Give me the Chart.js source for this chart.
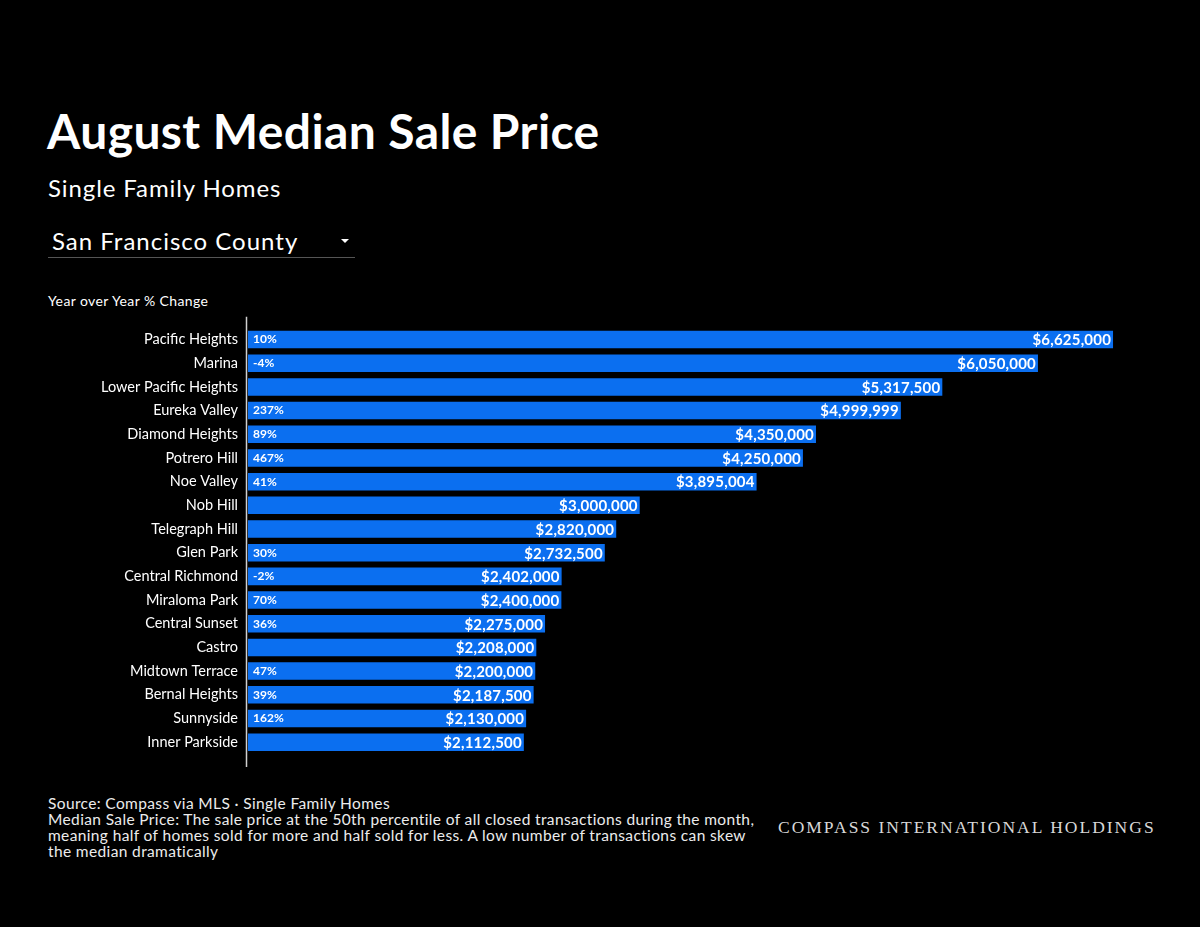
<!DOCTYPE html>
<html>
<head>
<meta charset="utf-8">
<script src="https://cdn.jsdelivr.net/npm/chart.js@4"></script>
<style>
  html, body { margin: 0; padding: 0; background: #000; }
  body { width: 1200px; height: 927px; position: relative; overflow: hidden; font-family: "Lato", "Noto Sans", sans-serif; color: #fff; }
  #title { position: absolute; left: 47px; top: 102px; font-size: 48px; font-weight: 700; letter-spacing: 0.4px; }
  #subtitle { position: absolute; left: 48px; top: 173px; font-size: 24px; font-weight: 400; letter-spacing: 0.9px; }
  #dropdown { position: absolute; left: 48px; top: 226px; width: 307px; height: 31px; border-bottom: 1px solid #555; }
  #dropdown .txt { position: absolute; left: 4px; top: 0; font-size: 24px; letter-spacing: 1px; }
  #dropdown .caret { position: absolute; left: 293px; top: 13px; width: 0; height: 0; border-left: 4px solid transparent; border-right: 4px solid transparent; border-top: 4px solid #fff; }
  #yoy { position: absolute; left: 48px; top: 292px; font-size: 14px; letter-spacing: 0.4px; }
  #chartwrap { position: absolute; left: 0; top: 309px; width: 1200px; height: 467px; }
  #footer { position: absolute; left: 48px; top: 795px; font-size: 15.5px; line-height: 16px; color: #ececec; font-weight: 400; letter-spacing: 0.37px; }
  #brand { position: absolute; left: 778px; top: 817px; font-family: "Liberation Serif", "DejaVu Serif", serif; font-size: 17.5px; letter-spacing: 2px; color: #d8d8d8; }
</style>
</head>
<body>
<div id="title">August Median Sale Price</div>
<div id="subtitle">Single Family Homes</div>
<div id="dropdown"><span class="txt">San Francisco County</span><span class="caret"></span></div>
<div id="yoy">Year over Year % Change</div>
<div id="chartwrap"><canvas id="c" width="1200" height="467"></canvas></div>
<div id="footer">Source: Compass via MLS · Single Family Homes<br>Median Sale Price: The sale price at the 50th percentile of all closed transactions during the month,<br>meaning half of homes sold for more and half sold for less. A low number of transactions can skew<br>the median dramatically</div>
<div id="brand">COMPASS INTERNATIONAL HOLDINGS</div>
<script>
const neighborhoods = ["Pacific Heights","Marina","Lower Pacific Heights","Eureka Valley","Diamond Heights","Potrero Hill","Noe Valley","Nob Hill","Telegraph Hill","Glen Park","Central Richmond","Miraloma Park","Central Sunset","Castro","Midtown Terrace","Bernal Heights","Sunnyside","Inner Parkside"];
const medianPrices = [6625000,6050000,5317500,4999999,4350000,4250000,3895004,3000000,2820000,2732500,2402000,2400000,2275000,2208000,2200000,2187500,2130000,2112500];
const yoyChange = [10,-4,null,237,89,467,41,null,null,30,-2,70,36,null,47,39,162,null];
const xMax = 7000000;

const barLabels = {
  id: 'barLabels',
  afterDatasetsDraw(chart) {
    const ctx = chart.ctx;
    const meta = chart.getDatasetMeta(0);
    ctx.save();
    ctx.fillStyle = '#ffffff';
    ctx.textBaseline = 'middle';
    meta.data.forEach((bar, i) => {
      ctx.font = '700 15px Lato, "Noto Sans", sans-serif';
      ctx.letterSpacing = '0.2px';
      ctx.textAlign = 'right';
      ctx.fillText('$' + medianPrices[i].toLocaleString('en-US'), bar.x - 2, bar.y + 1);
      if (yoyChange[i] !== null) {
        ctx.font = '700 12px Lato, "Noto Sans", sans-serif';
        ctx.letterSpacing = '0px';
        ctx.textAlign = 'left';
        ctx.fillText(yoyChange[i] + '%', bar.base + 5, bar.y);
      }
    });
    ctx.restore();
  }
};

const axisLine = {
  id: 'axisLine',
  afterDraw(chart) {
    const a = chart.chartArea;
    const ctx = chart.ctx;
    ctx.save();
    ctx.strokeStyle = '#d0d0d0';
    ctx.lineWidth = 1.5;
    ctx.beginPath();
    ctx.moveTo(a.left - 1.5, a.top - 11);
    ctx.lineTo(a.left - 1.5, a.bottom + 13);
    ctx.stroke();
    ctx.restore();
  }
};

new Chart(document.getElementById('c'), {
  type: 'bar',
  data: {
    labels: neighborhoods,
    datasets: [{
      data: medianPrices,
      backgroundColor: '#0b6ff0',
      borderWidth: 0,
      barPercentage: 0.74,
      categoryPercentage: 1.0
    }]
  },
  options: {
    indexAxis: 'y',
    responsive: false,
    animation: false,
    devicePixelRatio: 1,
    layout: { padding: { top: 4, bottom: 22, left: 0, right: 38 } },
    plugins: { legend: { display: false }, tooltip: { enabled: false } },
    scales: {
      x: { display: false, min: 0, max: xMax },
      y: {
        grid: { display: false, drawTicks: false },
        border: { display: false },
        ticks: { color: '#ffffff', font: { family: 'Lato, "Noto Sans", sans-serif', size: 14.5, weight: '400' }, padding: 10 },
        afterFit(scale) { scale.width = 248; }
      }
    }
  },
  plugins: [barLabels, axisLine]
});
</script>
</body>
</html>
